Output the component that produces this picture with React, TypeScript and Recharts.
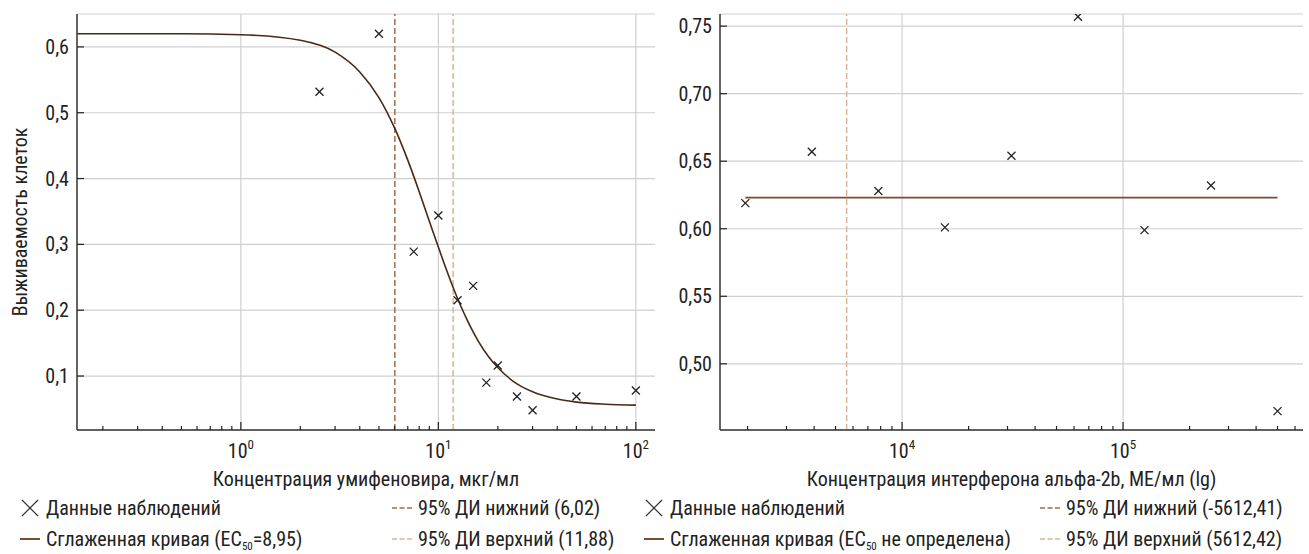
import React from 'react';
import { ComposedChart, Line, Scatter, XAxis, YAxis, CartesianGrid, ReferenceLine } from 'recharts';

const FONT = '"Roboto Condensed", "Liberation Sans Narrow", Roboto, Arial, sans-serif';
const INK = '#222';

// Left panel: umifenovir
const umiObserved = [
  { x: 2.5, y: 0.532 }, { x: 5, y: 0.62 }, { x: 7.5, y: 0.289 }, { x: 10, y: 0.344 },
  { x: 12.5, y: 0.215 }, { x: 15, y: 0.237 }, { x: 17.5, y: 0.09 }, { x: 20, y: 0.116 },
  { x: 25, y: 0.069 }, { x: 30, y: 0.048 }, { x: 50, y: 0.069 }, { x: 100, y: 0.078 },
];
const umiCurve = [
  { x: 0.148, y: 0.62 }, { x: 0.3, y: 0.62 }, { x: 0.5, y: 0.62 }, { x: 1, y: 0.6185 },
  { x: 2, y: 0.61 }, { x: 3, y: 0.592 }, { x: 4, y: 0.562 }, { x: 5, y: 0.523 },
  { x: 6, y: 0.477 }, { x: 7, y: 0.428 }, { x: 8, y: 0.38 }, { x: 9, y: 0.335 },
  { x: 10, y: 0.296 }, { x: 11, y: 0.261 }, { x: 12, y: 0.231 }, { x: 13, y: 0.206 },
  { x: 14, y: 0.185 }, { x: 16, y: 0.152 }, { x: 18, y: 0.129 }, { x: 20, y: 0.113 },
  { x: 25, y: 0.088 }, { x: 30, y: 0.076 }, { x: 40, y: 0.065 }, { x: 50, y: 0.0604 },
  { x: 70, y: 0.0572 }, { x: 100, y: 0.0558 },
];
const umiCiLow = 6.02;
const umiCiHigh = 11.88;
const umiXMajor = [1, 10, 100];
const umiXTicks = [0.2, 0.3, 0.4, 0.5, 0.6, 0.7, 0.8, 0.9, 1, 2, 3, 4, 5, 6, 7, 8, 9, 10, 20, 30, 40, 50, 60, 70, 80, 90, 100];
const umiYTicks = [0.1, 0.2, 0.3, 0.4, 0.5, 0.6];

// Right panel: interferon alfa-2b
const ifnObserved = [
  { x: 1953, y: 0.619 }, { x: 3906, y: 0.657 }, { x: 7812, y: 0.628 }, { x: 15625, y: 0.601 },
  { x: 31250, y: 0.654 }, { x: 62500, y: 0.757 }, { x: 125000, y: 0.599 }, { x: 250000, y: 0.632 },
  { x: 500000, y: 0.465 },
];
const ifnCurve = [{ x: 1953, y: 0.623 }, { x: 500000, y: 0.623 }];
const ifnCiHigh = 5612.42;
const ifnXMajor = [10000, 100000];
const ifnXTicks = [2000, 3000, 4000, 5000, 6000, 7000, 8000, 9000, 10000, 20000, 30000, 40000, 50000, 60000, 70000, 80000, 90000, 100000, 200000, 300000, 400000, 500000, 600000];
const ifnYTicks = [0.5, 0.55, 0.6, 0.65, 0.7, 0.75];

const CURVE = '#4a2814';
const FLAT = '#7a4c30';
const CI_LOW = '#a06d4b';
const CI_HIGH = '#d9b692';
const GRID = '#cfcfcf';
const FS = 20;

const Cross = (props: any) => {
  const { cx, cy } = props;
  if (cx == null || cy == null) return null;
  const r = 4;
  return (
    <g stroke={INK} strokeWidth={1.3}>
      <line x1={cx - r} y1={cy - r} x2={cx + r} y2={cy + r} />
      <line x1={cx - r} y1={cy + r} x2={cx + r} y2={cy - r} />
    </g>
  );
};

const makeXTick = (majors: number[]) => (props: any) => {
  const { x, y, payload } = props;
  const v = payload.value;
  const major = majors.includes(v);
  return (
    <g>
      <line x1={x} x2={x} y1={y} y2={y - (major ? 8 : 4)} stroke={INK} strokeWidth={1.2} />
      {major && (
        <text x={x} y={y + 28} textAnchor="middle" fontFamily={FONT} fontSize={FS} fill={INK}>
          10<tspan dy={-9} fontSize={13}>{Math.round(Math.log10(v))}</tspan>
        </text>
      )}
    </g>
  );
};

const makeYTick = (digits: number) => (props: any) => {
  const { x, y, payload } = props;
  return (
    <g>
      <line x1={x} x2={x + 7} y1={y} y2={y} stroke={INK} strokeWidth={1.2} />
      <text x={x - 8} y={y} dy={7} textAnchor="end" fontFamily={FONT} fontSize={FS} fill={INK}>
        {payload.value.toFixed(digits).replace('.', ',')}
      </text>
    </g>
  );
};

const XTitle = (text: string) => (props: any) => {
  const { viewBox } = props;
  return (
    <text x={viewBox.x + viewBox.width / 2} y={viewBox.y + 56} textAnchor="middle" fontFamily={FONT} fontSize={FS} fill={INK}>
      {text}
    </text>
  );
};

const YTitle = () => (
  <text x={27} y={222} transform="rotate(-90, 27, 222)" textAnchor="middle" fontFamily={FONT} fontSize={FS} fill={INK}>
    Выживаемость клеток
  </text>
);

const CrossIcon = () => (
  <svg width={20} height={20} style={{ marginRight: 6, flex: 'none' }}>
    <line x1={2} y1={2} x2={18} y2={18} stroke="#333" strokeWidth={1.2} />
    <line x1={2} y1={18} x2={18} y2={2} stroke="#333" strokeWidth={1.2} />
  </svg>
);

const LineIcon = ({ color, dashed }: { color: string; dashed?: boolean }) => (
  <svg width={20} height={20} style={{ marginRight: 6, flex: 'none' }}>
    <line x1={0} y1={10} x2={20} y2={10} stroke={color} strokeWidth={dashed ? 1.5 : 2} strokeDasharray={dashed ? '5 2.5' : undefined} />
  </svg>
);

const Sub = () => <span style={{ fontSize: 11, position: 'relative', top: 4 }}>50</span>;

const Item = ({ left, top, icon, children }: { left: number; top: number; icon: React.ReactNode; children: React.ReactNode }) => (
  <div style={{ position: 'absolute', left, top, height: 24, display: 'flex', alignItems: 'center', fontFamily: FONT, fontSize: FS, color: INK, whiteSpace: 'nowrap' }}>
    {icon}
    <span>{children}</span>
  </div>
);

const axisLine = { stroke: '#333', strokeWidth: 1.5 };

export default function App() {
  return (
    <div style={{ position: 'absolute', left: 0, top: 0, width: 1309, height: 554, background: '#fff', overflow: 'hidden' }}>
      <div style={{ position: 'absolute', left: 0, top: 0 }}>
        <ComposedChart width={660} height={500} margin={{ top: 14, right: 5, bottom: 20, left: 0 }}>
          <CartesianGrid vertical={false} stroke={GRID} strokeWidth={1.2} />
          <XAxis
            dataKey="x" type="number" scale="log" domain={[0.148, 125]} allowDataOverflow
            ticks={umiXTicks} interval={0} tickSize={0} tickMargin={0} height={50}
            tickLine={false} axisLine={axisLine} tick={makeXTick(umiXMajor)}
            label={{ content: XTitle('Концентрация умифеновира, мкг/мл') }}
          />
          <YAxis
            dataKey="y" type="number" domain={[0.018, 0.65]} allowDataOverflow
            ticks={umiYTicks} interval={0} tickSize={0} tickMargin={0} width={77}
            tickLine={false} axisLine={axisLine} tick={makeYTick(1)}
            label={{ content: YTitle }}
          />
          {umiXMajor.map((v) => (
            <ReferenceLine key={v} x={v} stroke={GRID} strokeWidth={1.2} />
          ))}
          <ReferenceLine x={umiCiLow} stroke={CI_LOW} strokeWidth={1.5} strokeDasharray="6 3" />
          <ReferenceLine x={umiCiHigh} stroke={CI_HIGH} strokeWidth={1.5} strokeDasharray="6 3" />
          <Line data={umiCurve} dataKey="y" type="monotone" stroke={CURVE} strokeWidth={1.6} dot={false} isAnimationActive={false} />
          <Scatter data={umiObserved} dataKey="y" shape={Cross} isAnimationActive={false} />
        </ComposedChart>
      </div>
      <div style={{ position: 'absolute', left: 660, top: 0 }}>
        <ComposedChart width={649} height={500} margin={{ top: 14, right: 6, bottom: 20, left: 0 }}>
          <CartesianGrid vertical={false} stroke={GRID} strokeWidth={1.2} />
          <XAxis
            dataKey="x" type="number" scale="log" domain={[1500, 652000]} allowDataOverflow
            ticks={ifnXTicks} interval={0} tickSize={0} tickMargin={0} height={50}
            tickLine={false} axisLine={axisLine} tick={makeXTick(ifnXMajor)}
            label={{ content: XTitle('Концентрация интерферона альфа-2b, МЕ/мл (lg)') }}
          />
          <YAxis
            dataKey="y" type="number" domain={[0.451, 0.759]} allowDataOverflow
            ticks={ifnYTicks} interval={0} tickSize={0} tickMargin={0} width={60}
            tickLine={false} axisLine={axisLine} tick={makeYTick(2)}
          />
          {ifnXMajor.map((v) => (
            <ReferenceLine key={v} x={v} stroke={GRID} strokeWidth={1.2} />
          ))}
          <ReferenceLine x={ifnCiHigh} stroke={CI_HIGH} strokeWidth={1.5} strokeDasharray="6 3" />
          <Line data={ifnCurve} dataKey="y" type="linear" stroke={FLAT} strokeWidth={1.8} dot={false} isAnimationActive={false} />
          <Scatter data={ifnObserved} dataKey="y" shape={Cross} isAnimationActive={false} />
        </ComposedChart>
      </div>

      <Item left={20} top={496} icon={<CrossIcon />}>Данные наблюдений</Item>
      <Item left={20} top={527} icon={<LineIcon color={FLAT} />}>Сглаженная кривая (EC<Sub />=8,95)</Item>
      <Item left={392} top={496} icon={<LineIcon color={CI_LOW} dashed />}>95% ДИ нижний (6,02)</Item>
      <Item left={392} top={527} icon={<LineIcon color={CI_HIGH} dashed />}>95% ДИ верхний (11,88)</Item>

      <Item left={644} top={496} icon={<CrossIcon />}>Данные наблюдений</Item>
      <Item left={644} top={527} icon={<LineIcon color={FLAT} />}>Сглаженная кривая (EC<Sub /> не определена)</Item>
      <Item left={1040} top={496} icon={<LineIcon color={CI_LOW} dashed />}>95% ДИ нижний (-5612,41)</Item>
      <Item left={1040} top={527} icon={<LineIcon color={CI_HIGH} dashed />}>95% ДИ верхний (5612,42)</Item>
    </div>
  );
}
